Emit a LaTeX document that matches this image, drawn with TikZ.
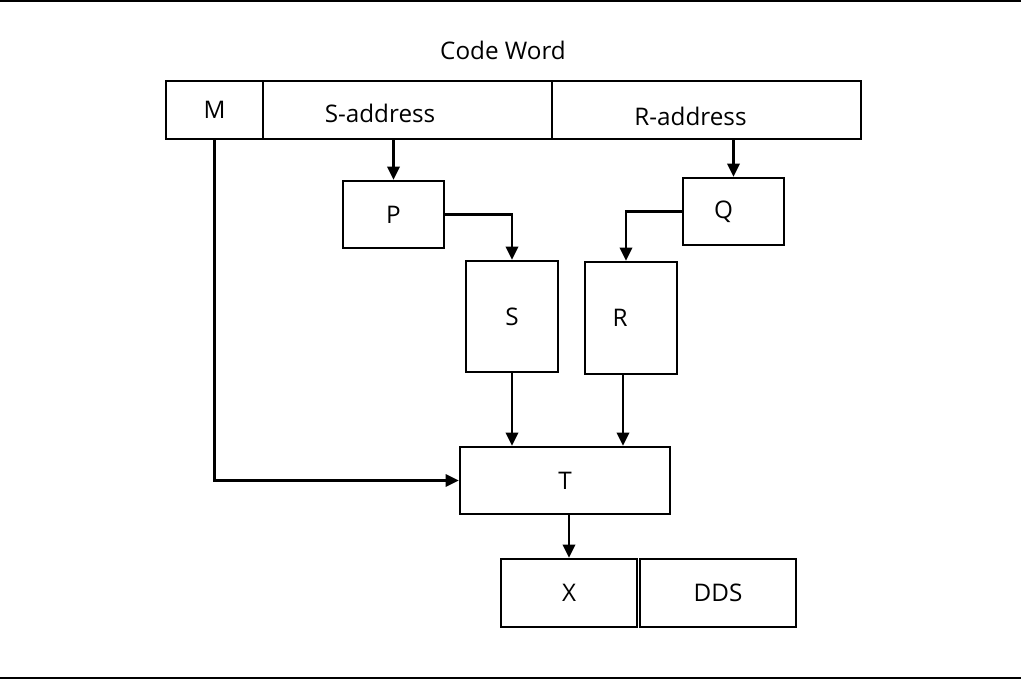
\documentclass[tikz,border=0pt]{standalone}
\usepackage{fontspec}
\setmainfont{Open Sans}
\usetikzlibrary{arrows.meta}

\begin{document}
\begin{tikzpicture}[x=0.02cm, y=-0.02cm,
		shrift/.style={font=\fontsize{13.8}{16}\selectfont},
		blok/.style={draw, line width=1.4pt, rectangle, inner sep=0pt, shrift},
		strelka/.style={line width=1.4pt, -{Triangle[length=7.5pt, width=7pt]}}]
	\useasboundingbox (0,0) rectangle (1021,681);
	
	% Линии страницы
	\draw[line width=1.5pt] (0,1) -- (1021,1);
	\draw[line width=1pt] (0,678) -- (1021,678);
	
	% Кодовое слово
	\node[shrift] (cw) at (503,50) {Code Word};
	\node[blok, minimum width=1.94cm, minimum height=1.16cm] (M) at (214.5,110) {M};
	\node[blok, minimum width=5.78cm, minimum height=1.16cm,
		label={[shrift, xshift=-0.55cm, yshift=-0.06cm]center:S-address}] (sa) at (407.5,110) {};
	\node[blok, minimum width=6.18cm, minimum height=1.16cm,
		label={[shrift, xshift=-0.32cm, yshift=-0.12cm]center:R-address}] (ra) at (706.5,110) {};
	
	% Блоки
	\node[blok, minimum width=2.02cm, minimum height=1.34cm] (P) at (393.5,214.5) {P};
	\node[blok, minimum width=2.02cm, minimum height=1.34cm,
		label={[shrift, xshift=-0.2cm]center:Q}] (Q) at (733.5,211.5) {};
	\node[blok, minimum width=1.84cm, minimum height=2.22cm] (S) at (512,316.5) {S};
	\node[blok, minimum width=1.84cm, minimum height=2.24cm,
		label={[shrift, xshift=-0.22cm]center:R}] (R) at (631,318) {};
	\node[blok, minimum width=4.2cm, minimum height=1.34cm] (T) at (565,480.5) {T};
	\node[blok, minimum width=2.72cm, minimum height=1.36cm] (X) at (569,593) {X};
	\node[blok, minimum width=3.12cm, minimum height=1.36cm] (DDS) at (718,593) {DDS};
	
	% Стрелки
	\draw[strelka] (sa.south -| P.north) -- (P.north);
	\draw[strelka] (ra.south -| Q.north) -- (Q.north);
	\draw[strelka] (P.east) -| (S.north);
	\draw[strelka] (Q.west) -| ([xshift=-0.1cm]R.north);
	\draw[strelka] (S.south) -- (S.south |- T.north);
	\draw[strelka] ([xshift=-0.16cm]R.south) -- ([xshift=-0.16cm]R.south |- T.north);
	\draw[strelka] (M.south) |- (T.west);
	\draw[strelka] (X.north |- T.south) -- (X.north);
\end{tikzpicture}
\end{document}
